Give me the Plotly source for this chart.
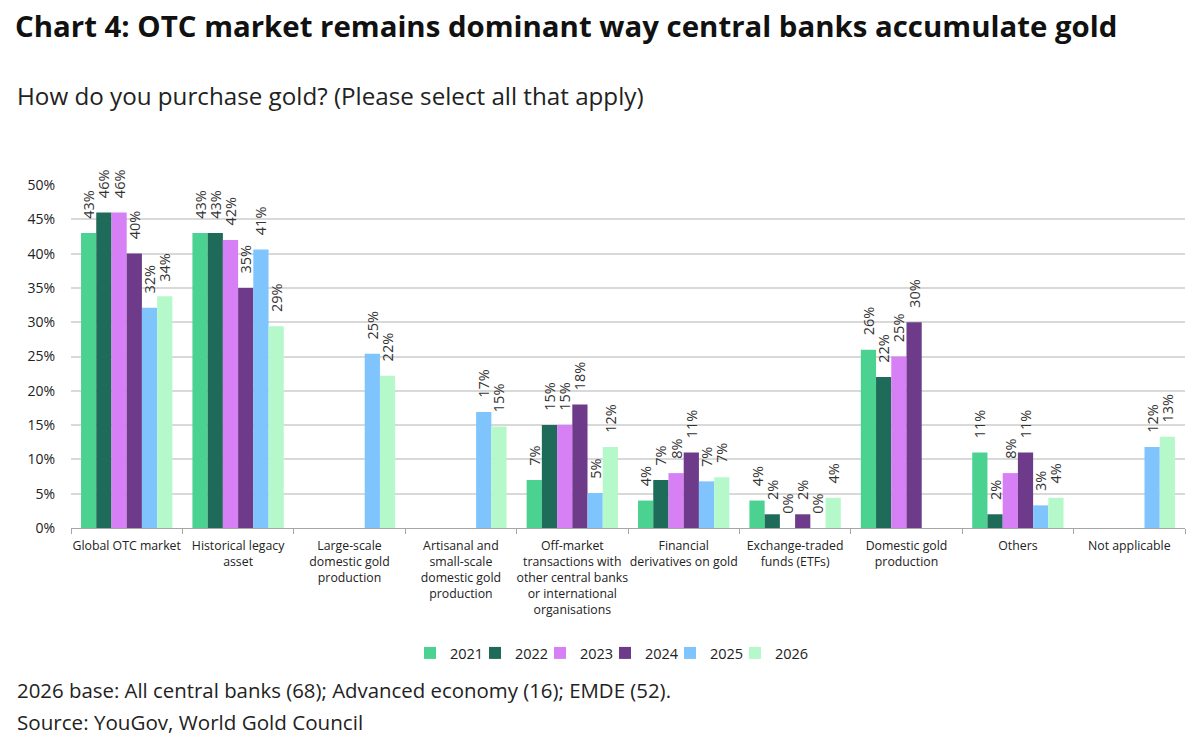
import plotly.graph_objects as go

categories = [
    "Global OTC market",
    "Historical legacy<br>asset",
    "Large-scale<br>domestic gold<br>production",
    "Artisanal and<br>small-scale<br>domestic gold<br>production",
    "Off-market<br>transactions with<br>other central banks<br>or international<br>organisations",
    "Financial<br>derivatives on gold",
    "Exchange-traded<br>funds (ETFs)",
    "Domestic gold<br>production",
    "Others",
    "Not applicable",
]

years = ["2021", "2022", "2023", "2024", "2025", "2026"]

v2021 = [43, 43, None, None, 7, 4, 4, 26, 11, None]
v2022 = [46, 43, None, None, 15, 7, 2, 22, 2, None]
v2023 = [46, 42, None, None, 15, 8, 0, 25, 8, None]
v2024 = [40, 35, None, None, 18, 11, 2, 30, 11, None]
v2025 = [32.1, 40.6, 25.4, 16.9, 5.1, 6.8, 0, None, 3.3, 11.8]
v2026 = [33.8, 29.4, 22.2, 14.8, 11.8, 7.4, 4.4, None, 4.4, 13.3]

series = [v2021, v2022, v2023, v2024, v2025, v2026]
colors = ["#4cd290", "#1f6b5a", "#d77ff5", "#6e3b8a", "#7fc4fc", "#b5f9cb"]

PAD = "\u00a0\u00a0\u00a0"

W, H = 1200, 746
L, R, T, B = 71, 15, 185, 218
ph = H - T - B

def py(ypx):
    return (H - B - ypx) / ph

def px(xpx):
    return (xpx - L) / (W - L - R)

fig = go.Figure()
legend_layout = {}
LEG_STEP = 65
LEG_LEFT = 410
for i, (name, vals, col) in enumerate(zip(years, series, colors)):
    lname = "legend" if i == 0 else f"legend{i + 1}"
    fig.add_trace(go.Bar(
        name=name,
        x=categories,
        y=vals,
        legend=lname,
        marker=dict(color=col, line=dict(width=0)),
        text=[None if v is None else f"{PAD}{round(v):.0f}%" for v in vals],
        textposition="outside",
        textangle=-90,
        constraintext="none",
        cliponaxis=False,
        textfont=dict(size=14.5, color="#333333", family="Open Sans"),
    ))
    legend_layout[lname] = dict(
        orientation="h",
        x=(LEG_LEFT + LEG_STEP * i) / W, xanchor="left", xref="container",
        y=1 - 653 / H, yanchor="middle", yref="container",
        font=dict(size=14.5, color="#222222"),
        bgcolor="rgba(0,0,0,0)",
        borderwidth=0,
    )

fig.update_layout(
    width=W, height=H,
    margin=dict(l=L, r=R, t=T, b=B),
    paper_bgcolor="white", plot_bgcolor="white",
    barmode="group", bargap=0.18, bargroupgap=0,
    font=dict(family="Open Sans", size=13, color="#222222"),
    title=dict(
        text="<b>Chart 4: OTC market remains dominant way central banks accumulate gold</b>",
        x=15 / W, xanchor="left", xref="container",
        y=1 - 27 / H, yanchor="middle", yref="container",
        font=dict(size=29.4, color="#111111", family="Open Sans"),
    ),
    showlegend=True,
    xaxis=dict(
        type="category",
        showgrid=False,
        showline=True, linecolor="#a6a6a6", linewidth=1,
        ticks="outside", tickson="boundaries", ticklen=5, tickcolor="#a6a6a6",
        tickangle=0,
        tickfont=dict(size=12.3, color="#222222"),
        ticklabelstandoff=6,
    ),
    yaxis=dict(
        range=[0, 50], dtick=5, ticksuffix="%",
        showgrid=True, gridcolor="#d9d9d9", gridwidth=1.5,
        zeroline=False, showline=False,
        tickfont=dict(size=14, color="#222222"),
        ticklabelstandoff=15,
    ),
    annotations=[
        dict(text="How do you purchase gold? (Please select all that apply)",
             xref="paper", yref="paper", x=px(15), y=py(95),
             xanchor="left", yanchor="middle", showarrow=False,
             font=dict(size=24.2, color="#222222")),
        dict(text="2026 base: All central banks (68); Advanced economy (16); EMDE (52).",
             xref="paper", yref="paper", x=px(15), y=py(690),
             xanchor="left", yanchor="middle", showarrow=False,
             font=dict(size=20.4, color="#222222")),
        dict(text="Source: YouGov, World Gold Council",
             xref="paper", yref="paper", x=px(15), y=py(722),
             xanchor="left", yanchor="middle", showarrow=False,
             font=dict(size=20.6, color="#222222")),
    ],
    **legend_layout,
)

fig.write_html("out.html")
